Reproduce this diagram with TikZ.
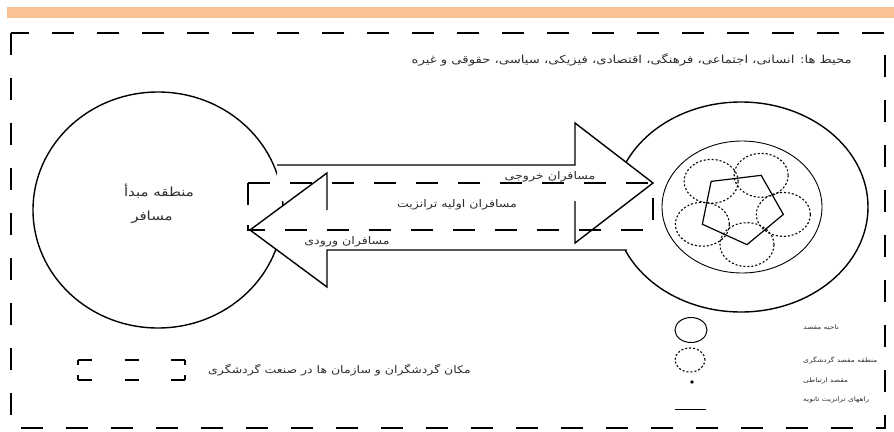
\documentclass[tikz,border=0pt]{standalone}
\usepackage{fontspec}
\usetikzlibrary{shapes.geometric, arrows.meta, positioning, calc}
\newfontfamily\farsi[Script=Arabic, FakeStretch=1.2]{DejaVu Sans}
\TeXXeTstate=1
\definecolor{BandOrange}{RGB}{249,194,148}
\definecolor{InkGrey}{RGB}{45,45,45}

\tikzset{
  zone/.style={draw, ellipse, line width=1.4pt, inner sep=0pt},
  spot/.style={draw, ellipse, line width=1.1pt, dash pattern=on 2pt off 2pt, inner sep=0pt},
  fa/.style={font=\farsi\fontsize{10.5}{11}\selectfont, text=InkGrey, inner sep=1pt},
  fasmall/.style={font=\farsi\fontsize{6.2}{7}\selectfont, text=InkGrey, inner sep=1pt},
  bigarrow/.style={line width=1.4pt, line join=miter},
  frame/.style={line width=2.4pt, dash pattern=on 22pt off 23pt},
  boxdash/.style={line width=1.6pt, dash pattern=on 22pt off 20pt},
  keydash/.style={line width=1.6pt, dash pattern=on 14pt off 32.5pt},
  keytick/.style={line width=1.6pt, dash pattern=on 5pt off 10pt}
}

\begin{document}
\begin{tikzpicture}[x=1pt, y=-1pt]
    \useasboundingbox (0,0) rectangle (894,431);
    \fill[BandOrange] (7,7) rectangle (894,18);

    % outer environment frame
    \draw[frame] (11,33) rectangle (885,428);
    \node[fa, font=\farsi\fontsize{11}{12}\selectfont, anchor=east] (env) at (853,60) {\beginR محیط ها: انسانی، اجتماعی، فرهنگی، اقتصادی، فیزیکی، سیاسی، حقوقی و غیره\endR};

    % origin and destination
    \node[zone, minimum width=250pt, minimum height=236pt] (origin) at (158,210) {};
    \node[zone, minimum width=254pt, minimum height=210pt] (dest) at (741,207) {};
    \node[zone, line width=0.9pt, minimum width=160pt, minimum height=132pt] (region) at (742,207) {};
    \foreach \a [count=\i] in {10,82,154,226,298}
        \coordinate (v\i) at ($(741,208)+(\a:43 and 37)$);
    \foreach \i in {1,...,5}
        \node[spot, minimum width=54pt, minimum height=44pt] (s\i) at (v\i) {};
    \draw[line width=1.2pt] (v1) -- (v2) -- (v3) -- (v4) -- (v5) -- cycle;

    \node[fa, font=\farsi\fontsize{12.5}{13}\selectfont] (originname) at (159,191) {\beginR منطقه مبدأ\endR};
    \node[fa, font=\farsi\fontsize{12.5}{13}\selectfont] (tourist) at (152,217) {\beginR مسافر\endR};

    % outgoing and incoming flows
    \fill[white] (277,165) -- (575,165) -- (575,123) -- (653,183) -- (575,243) -- (575,201) -- (277,201) -- cycle;
    \fill[white] (627,250) -- (327,250) -- (327,287) -- (250,230) -- (327,173) -- (327,210) -- (627,210) -- cycle;
    \draw[bigarrow] (277,165) -- (575,165) -- (575,123) -- (653,183) -- (575,243) -- (575,201);
    \draw[bigarrow] (627,250) -- (327,250) -- (327,287) -- (250,230) -- (327,173) -- (327,210);
    \draw[boxdash] (248,183) rectangle (653,230);

    \node[fa] (outgoing) at (550,177) {\beginR مسافران خروجی\endR};
    \node[fa] (transit) at (457,205) {\beginR مسافران اولیه ترانزیت\endR};
    \node[fa] (incoming) at (347,242) {\beginR مسافران ورودی\endR};

    % legend
    \draw[keydash] (78,360) -- (185,360);
    \draw[keydash] (78,380) -- (185,380);
    \draw[keytick] (78,360) -- (78,380);
    \draw[keytick] (185,360) -- (185,380);
    \node[fa, font=\farsi\fontsize{10.4}{11}\selectfont, anchor=west] (keybox) at (207,370) {\beginR مکان گردشگران و سازمان ها در صنعت گردشگری\endR};

    \node[zone, line width=1pt, minimum width=32pt, minimum height=25pt] (keyzone) at (691,330) {};
    \node[spot, minimum width=30pt, minimum height=24pt] (keyspot) at (690,360) {};
    \fill (692,382) circle (1.8pt);
    \coordinate (keyfrom) at (675,409);
    \coordinate (keyto) at (706,409);
    \draw[line width=1pt] (keyfrom) -- (keyto);

    \node[fasmall, anchor=west] (zonetext) at (802,328) {\beginR ناحیه مقصد\endR};
    \node[fasmall, anchor=west] (spottext) at (802,360) {\beginR منطقه مقصد گردشگری\endR};
    \node[fasmall, anchor=west] (dottext) at (802,381) {\beginR مقصد ارتباطی\endR};
    \node[fasmall, anchor=west] (linetext) at (802,400) {\beginR راههای ترانزیت ثانویه\endR};
\end{tikzpicture}
\end{document}
